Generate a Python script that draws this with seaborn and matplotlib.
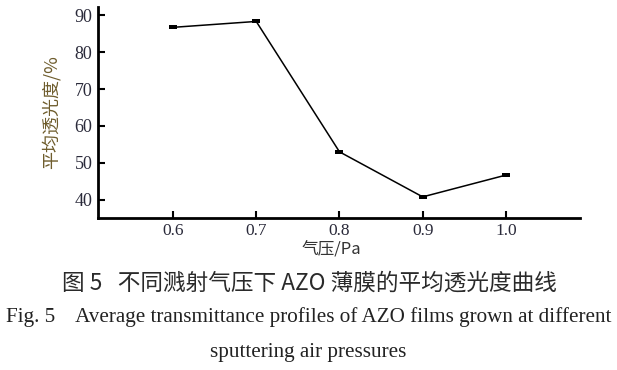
import matplotlib
matplotlib.use("Agg")
import matplotlib.pyplot as plt
import seaborn as sns
import pandas as pd

# data
pressure = [0.6, 0.7, 0.8, 0.9, 1.0]
transmittance = [86.7, 88.3, 53.0, 40.8, 46.7]
x_ticks = [0.6, 0.7, 0.8, 0.9, 1.0]
y_ticks = [40, 50, 60, 70, 80, 90]

df = pd.DataFrame({"pressure": pressure, "transmittance": transmittance})

sns.set_theme(style="ticks")
SERIF = ["Liberation Serif", "DejaVu Serif"]
CJK = ["Noto Sans CJK SC", "DejaVu Sans"]
plt.rcParams["font.family"] = SERIF

fig = plt.figure(figsize=(6.17, 3.70), dpi=100)
ax = fig.add_axes([0.159, 0.411, 0.781, 0.570])

# small flat rectangle markers
rect = [(-1, -0.5), (1, -0.5), (1, 0.5), (-1, 0.5), (-1, -0.5)]
sns.lineplot(data=df, x="pressure", y="transmittance", ax=ax,
             color="black", linewidth=1.1, marker=rect, markersize=6,
             markeredgewidth=0, markerfacecolor="black")

ax.set_xlim(0.51, 1.089)
ax.set_ylim(35.1, 92.2)
ax.set_xticks(x_ticks)
ax.set_xticklabels([f"{v:.1f}" for v in x_ticks])
ax.set_yticks(y_ticks)
ax.tick_params(direction="in", length=5, width=1.5, labelsize=12.5,
               colors="black", pad=4)
ax.tick_params(axis="y", labelsize=13)
for lab in ax.get_xticklabels() + ax.get_yticklabels():
    lab.set_color("#2a2a3a")

sns.despine(ax=ax)
for side in ["left", "bottom"]:
    ax.spines[side].set_linewidth(2)
    ax.spines[side].set_color("black")

ax.set_xlabel("气压/Pa", family=CJK, fontsize=12, color="#333333")
ax.xaxis.set_label_coords(0.485, -0.11)
ax.set_ylabel("平均透光度/%", family=CJK, fontsize=13, color="#6e5c2c",
              labelpad=10)

fig.text(0.502, 0.235, "图 5   不同溅射气压下 AZO 薄膜的平均透光度曲线",
         family=CJK, fontsize=16.3, ha="center", va="center", color="#2a2a2a",
         fontweight="light")
fig.text(0.5, 0.143, "Fig. 5    Average transmittance profiles of AZO films grown at different",
         family=SERIF, fontsize=15.2, ha="center", va="center", color="#222222")
fig.text(0.5, 0.046, "sputtering air pressures",
         family=SERIF, fontsize=15.2, ha="center", va="center", color="#222222")

fig.savefig("out.png", dpi=100)
